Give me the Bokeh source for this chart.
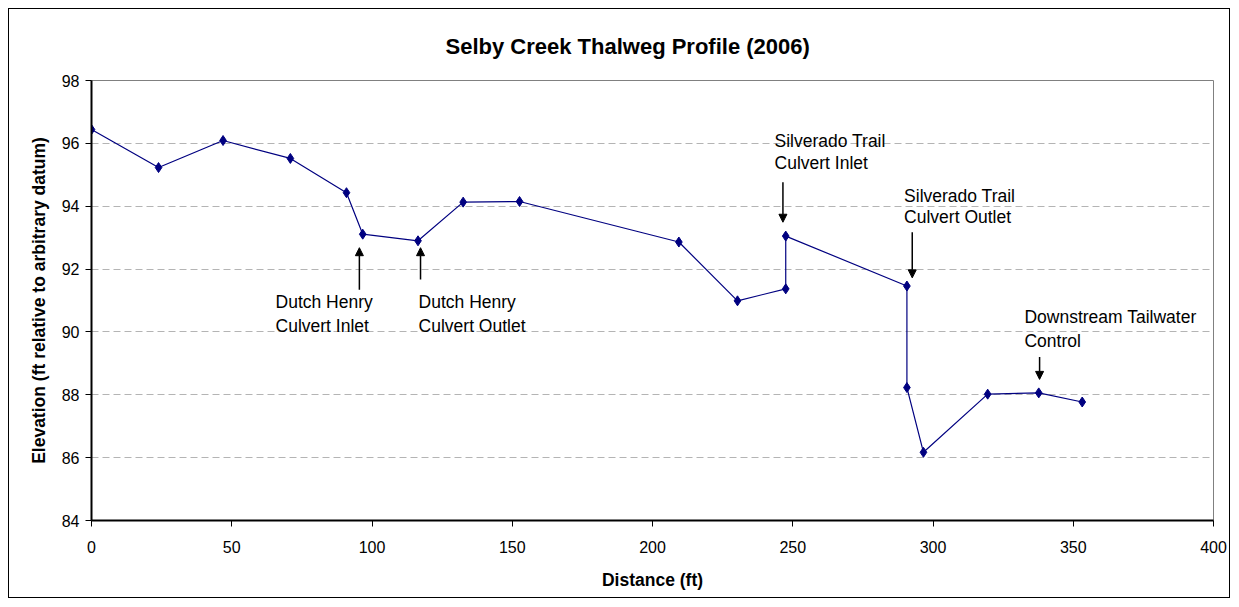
from bokeh.plotting import figure
from bokeh.models import Arrow, NormalHead, Range1d, FixedTicker, ColumnDataSource
from bokeh.core.properties import value
from bokeh.embed import file_html
from bokeh.resources import INLINE

# ---- data ----
distance_ft = [0, 23.9, 46.9, 70.9, 90.9, 96.7, 116.4, 132.5, 152.6, 209.4,
               230.3, 247.5, 247.5, 290.7, 290.7, 296.6, 319.5, 337.7, 353.2]
elevation_ft = [96.44, 95.23, 96.09, 95.52, 94.43, 93.11, 92.90, 94.13, 94.15, 92.86,
                90.99, 91.37, 93.05, 91.46, 88.23, 86.17, 88.02, 88.06, 87.77]

x_ticks = [0, 50, 100, 150, 200, 250, 300, 350, 400]
y_ticks = [84, 86, 88, 90, 92, 94, 96, 98]

# annotation labels (two lines each) and arrows
ann_lines = [["Dutch Henry", "Culvert Inlet"],
             ["Dutch Henry", "Culvert Outlet"],
             ["Silverado Trail", "Culvert Inlet"],
             ["Silverado Trail", "Culvert Outlet"],
             ["Downstream Tailwater", "Control"]]
ann_x = [65.6, 116.6, 243.5, 289.7, 332.6]
ann_y1 = [90.95, 90.95, 96.09, 94.34, 90.46]
ann_y2 = [90.20, 90.20, 95.36, 93.67, 89.71]
arrow_x = [95.5, 117.3, 246.5, 292.6, 338.0]
arrow_y_start = [91.34, 91.67, 94.76, 93.17, 89.20]
arrow_y_end = [92.68, 92.68, 93.49, 91.72, 88.49]

FONT = "Liberation Sans"

p = figure(width=1222, height=590, output_backend="svg", toolbar_location=None,
           x_range=Range1d(0, 400), y_range=Range1d(84, 98),
           min_border_left=82, min_border_right=18, min_border_top=71, min_border_bottom=79,
           title="Selby Creek Thalweg Profile (2006)")
p.styles = {"margin": "8px", "border": "1px solid black"}

p.title.align = "left"
p.title.offset = 354
p.title.text_font = FONT
p.title.text_font_size = "22px"
p.title.text_font_style = "bold"
p.title.text_color = "black"
p.title.standoff = 44

p.outline_line_color = "#808080"
p.outline_line_width = 1

p.xgrid.grid_line_color = None
p.ygrid.grid_line_color = "#b4b4b4"
p.ygrid.grid_line_dash = "7 4"
p.ygrid.grid_line_width = 1

for ax in (p.xaxis[0], p.yaxis[0]):
    ax.axis_line_color = "black"
    ax.axis_line_width = 2
    ax.major_tick_line_color = "black"
    ax.major_tick_line_width = 1
    ax.major_tick_out = 6
    ax.major_tick_in = 0
    ax.minor_tick_line_color = None
    ax.major_label_text_font = FONT
    ax.major_label_text_font_size = "16px"
    ax.major_label_text_color = "black"
    ax.axis_label_text_font = FONT
    ax.axis_label_text_font_size = "17.5px"
    ax.axis_label_text_font_style = "bold"
    ax.axis_label_text_color = "black"

p.xaxis.ticker = FixedTicker(ticks=x_ticks)
p.yaxis.ticker = FixedTicker(ticks=y_ticks)
p.xaxis.axis_label = "Distance (ft)"
p.yaxis.axis_label = "Elevation (ft relative to arbitrary datum)"
p.xaxis.major_label_standoff = 14
p.yaxis.major_label_standoff = 6
p.xaxis.axis_label_standoff = 14
p.yaxis.axis_label_standoff = 10

src = ColumnDataSource(dict(x=distance_ft, y=elevation_ft))
p.line("x", "y", source=src, line_color="#000080", line_width=1.2)
p.scatter("x", "y", source=src, marker="diamond", size=10, fill_color="#000080",
          line_color="#000080")

tx, ty, tt = [], [], []
for lines, x, y1, y2 in zip(ann_lines, ann_x, ann_y1, ann_y2):
    tx += [x, x]
    ty += [y1, y2]
    tt += lines
p.text(x=tx, y=ty, text=tt, text_font=value(FONT), text_font_size="17.5px",
       text_color="black", text_align="left", text_baseline="middle")

for x, ys, ye in zip(arrow_x, arrow_y_start, arrow_y_end):
    p.add_layout(Arrow(end=NormalHead(size=8, fill_color="black", line_color="black"),
                       x_start=x, y_start=ys, x_end=x, y_end=ye,
                       line_color="black", line_width=1.5))

open("out.html", "w").write(file_html(p, INLINE))
